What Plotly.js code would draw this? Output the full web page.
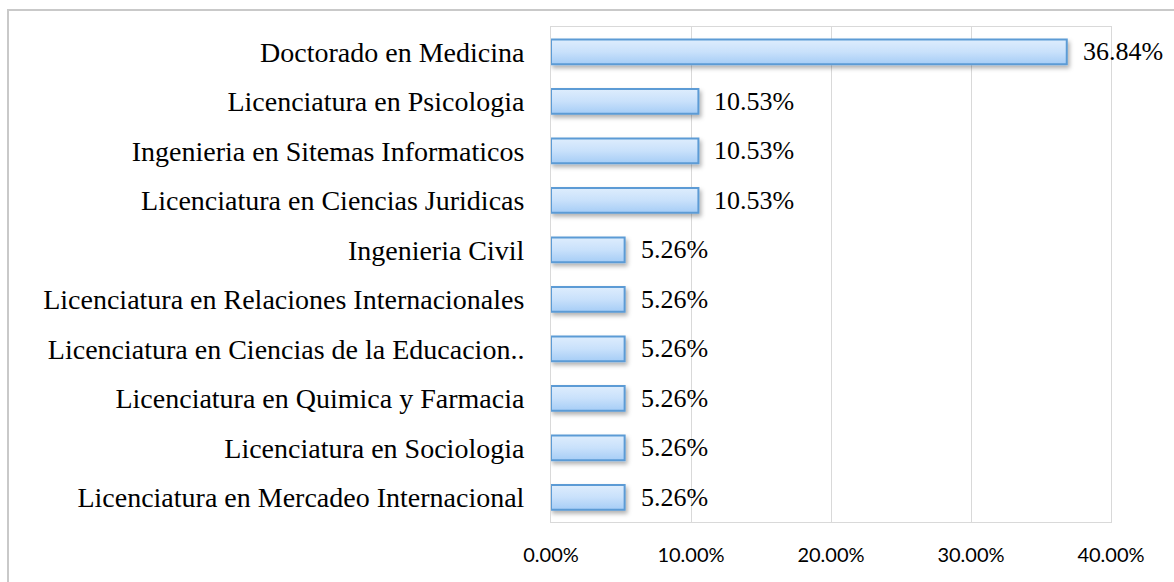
<!DOCTYPE html>
<html>
<head>
<meta charset="utf-8">
<script src="https://cdn.plot.ly/plotly-3.0.1.min.js"></script>
<style>
  html, body { margin: 0; padding: 0; background: #ffffff; }
  #wrap { position: relative; width: 1174px; height: 582px; overflow: hidden; }
  #chart { width: 1174px; height: 582px; }
  #frame { position: absolute; left: 7px; top: 9px; width: 1200px; height: 600px;
           border-left: 2px solid #c9c9c9; border-top: 2px solid #c9c9c9; pointer-events: none; }
</style>
</head>
<body>
<div id="wrap">
  <div id="chart"></div>
  <div id="frame"></div>
</div>
<script>
const categories = [
  "Doctorado en Medicina",
  "Licenciatura en Psicologia",
  "Ingenieria en Sitemas Informaticos",
  "Licenciatura en Ciencias Juridicas",
  "Ingenieria Civil",
  "Licenciatura en Relaciones Internacionales",
  "Licenciatura en Ciencias de la Educacion..",
  "Licenciatura en Quimica y Farmacia",
  "Licenciatura en Sociologia",
  "Licenciatura en Mercadeo Internacional"
];
const percentages = [36.84, 10.53, 10.53, 10.53, 5.26, 5.26, 5.26, 5.26, 5.26, 5.26];
const labels = percentages.map(v => v.toFixed(2) + "%");
const xTicks = [0, 10, 20, 30, 40];
const xTickText = xTicks.map(v => v.toFixed(2) + "%");

const trace = {
  type: "bar",
  orientation: "h",
  x: percentages,
  y: categories,
  marker: { color: "#c3defa", line: { color: "#5b9bd5", width: 2 } },
  hoverinfo: "x+y"
};

const annotations = percentages.map((v, i) => ({
  x: v, y: categories[i], xref: "x", yref: "y",
  text: labels[i], showarrow: false, xanchor: "left", yanchor: "middle",
  xshift: 14,
  font: { family: "Liberation Serif, Times New Roman, serif", size: 26, color: "#000000" }
}));

const layout = {
  width: 1174, height: 582,
  margin: { l: 551, r: 63, t: 27, b: 60, pad: 0 },
  paper_bgcolor: "#ffffff", plot_bgcolor: "#ffffff",
  bargap: 0.5,
  showlegend: false,
  xaxis: {
    range: [0, 40], tickvals: xTicks, ticktext: xTickText,
    showgrid: true, gridcolor: "#d9d9d9", gridwidth: 1,
    showline: true, linecolor: "#d9d9d9", linewidth: 1, mirror: true,
    zeroline: false, ticks: "", ticklabelstandoff: 15,
    tickfont: { family: "Lato, Open Sans, sans-serif", size: 20, color: "#000000" }
  },
  yaxis: {
    autorange: "reversed", type: "category",
    showgrid: false, showline: true, linecolor: "#d9d9d9", linewidth: 1, mirror: true,
    zeroline: false, ticks: "", ticklabelstandoff: 20,
    tickfont: { family: "Liberation Serif, Times New Roman, serif", size: 28, color: "#000000" }
  },
  annotations: annotations
};

Plotly.newPlot("chart", [trace], layout, { displayModeBar: false, staticPlot: true }).then(gd => {
  const NS = "http://www.w3.org/2000/svg";
  const svg = gd.querySelector("svg.main-svg");
  let defs = svg.querySelector("defs");
  if (!defs) { defs = document.createElementNS(NS, "defs"); svg.insertBefore(defs, svg.firstChild); }
  const grad = document.createElementNS(NS, "linearGradient");
  grad.setAttribute("id", "barGrad");
  grad.setAttribute("x1", "0"); grad.setAttribute("y1", "0");
  grad.setAttribute("x2", "0"); grad.setAttribute("y2", "1");
  [["0", "#deedfd"], ["0.5", "#c9e1fb"], ["1", "#a6cdf6"]].forEach(([o, c]) => {
    const s = document.createElementNS(NS, "stop");
    s.setAttribute("offset", o); s.setAttribute("stop-color", c);
    grad.appendChild(s);
  });
  defs.appendChild(grad);
  const filt = document.createElementNS(NS, "filter");
  filt.setAttribute("id", "barShadow");
  filt.setAttribute("x", "-10%"); filt.setAttribute("y", "-30%");
  filt.setAttribute("width", "130%"); filt.setAttribute("height", "180%");
  const ds = document.createElementNS(NS, "feDropShadow");
  ds.setAttribute("dx", "2"); ds.setAttribute("dy", "3");
  ds.setAttribute("stdDeviation", "2"); ds.setAttribute("flood-color", "#000000");
  ds.setAttribute("flood-opacity", "0.3");
  filt.appendChild(ds);
  defs.appendChild(filt);
  gd.querySelectorAll(".bars .point path").forEach(p => {
    p.style.fill = "url(#barGrad)";
    p.setAttribute("filter", "url(#barShadow)");
  });
});
</script>
</body>
</html>
